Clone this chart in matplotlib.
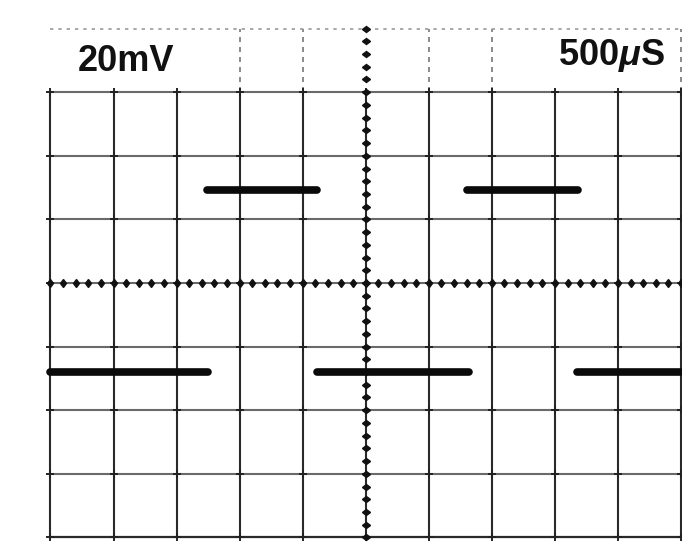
import matplotlib
matplotlib.use("Agg")
import matplotlib.pyplot as plt
from matplotlib.markers import MarkerStyle
from matplotlib.transforms import Affine2D
import numpy as np

plt.rcParams['font.family'] = ['Liberation Sans', 'DejaVu Sans']
plt.rcParams['mathtext.fontset'] = 'custom'
plt.rcParams['mathtext.rm'] = 'Liberation Sans:bold'
plt.rcParams['mathtext.it'] = 'Liberation Sans:bold:italic'

# ---- data (oscilloscope trace) ----
volts_label = "20mV"
time_label = r"500$\mu$S"
mv_per_div = 20.0
us_per_div = 500.0
n_xdiv = 10
n_ydiv = 8
# visible trace segments (time in microseconds, level in mV)
seg_start_us = [0, 1240, 2115, 3300, 4175]
seg_end_us = [1250, 2115, 3315, 4185, 5000]
seg_level_mv = [-28.0, 29.2, -28.0, 29.2, -28.0]

fig = plt.figure(figsize=(6.82, 5.42), dpi=100)
ax = fig.add_axes([0, 0, 1, 1])
px0, pxd = 50.5, 63.05   # pixel of left grid line, pixels per division
py0, pyd = 283.0, 63.6   # pixel of centre line, pixels per division
ax.set_xlim(-px0 / pxd, (682 - px0) / pxd)
ax.set_ylim((py0 - 542) / pyd, py0 / pyd)
ax.axis('off')

half = n_ydiv / 2
# vertical grid lines
for i in range(n_xdiv + 1):
    ax.plot([i, i], [-half, half - 1], color='#2a2a2a', lw=1.5, zorder=2)
    if i in (3, 4, 6, 7, 10):
        ax.plot([i, i], [half - 1, half], color='#777777', lw=1.2,
                ls=(0, (3, 3)), zorder=2)
# horizontal grid lines
for j in range(n_ydiv + 1):
    y = -half + j
    if j == n_ydiv:
        ax.plot([0, n_xdiv], [y, y], color='#9a9a9a', lw=1.2, ls=(0, (2, 3)), zorder=2)
    elif j == 0:
        ax.plot([0, n_xdiv], [y, y], color='#2a2a2a', lw=1.6, zorder=2)
    else:
        ax.plot([0, n_xdiv], [y, y], color='#6a6a6a', lw=1.5, zorder=2)

# intersections
gx, gy = np.meshgrid(np.arange(0, n_xdiv + 1), np.arange(-half, half))
ax.plot(gx.ravel(), gy.ravel(), ls='none', marker='+', ms=6, mew=1.4,
        color='#222222', zorder=3)

# centre-line minor tick marks
mx = np.arange(0, n_xdiv + 0.01, 0.2)
ax.plot(mx, np.zeros_like(mx), ls='none', marker='d', ms=4.5, color='#111111', zorder=3)
my = np.arange(-half, half + 0.01, 0.2)
rot = MarkerStyle('d', transform=Affine2D().rotate_deg(90))
ax.plot(np.full_like(my, n_xdiv / 2), my, ls='none', marker=rot, ms=4.5,
        color='#111111', zorder=3)

# trace
for s, e, lv in zip(seg_start_us, seg_end_us, seg_level_mv):
    xs = np.array([s, e]) / us_per_div
    ys = np.array([lv, lv]) / mv_per_div
    ax.plot(xs, ys, color='#0a0a0a', lw=5.5, solid_capstyle='round', zorder=5)

# labels
ax.text(0.43, 3.48, volts_label, fontsize=26, fontweight='bold', color='#111111',
        ha='left', va='center', zorder=6)
ax.text(8.05, 3.58, time_label, fontsize=26, fontweight='bold', color='#111111',
        ha='left', va='center', zorder=6)

fig.savefig("out.png", dpi=100)
